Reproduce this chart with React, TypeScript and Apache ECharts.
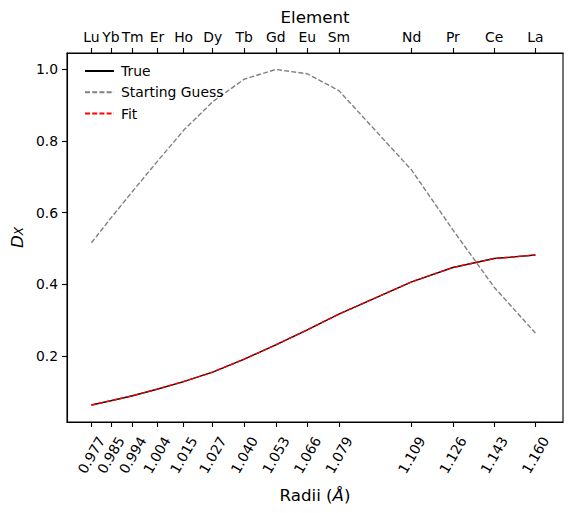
import React, { useEffect, useRef } from "react";
import * as echarts from "echarts";

const elements = ["Lu", "Yb", "Tm", "Er", "Ho", "Dy", "Tb", "Gd", "Eu", "Sm", "Nd", "Pr", "Ce", "La"];
const radii = [0.977, 0.985, 0.994, 1.004, 1.015, 1.027, 1.04, 1.053, 1.066, 1.079, 1.109, 1.126, 1.143, 1.16];
const trueValues = [0.063, 0.075, 0.089, 0.107, 0.1285, 0.155, 0.191, 0.231, 0.273, 0.317, 0.407, 0.447, 0.472, 0.482];
const fitValues = [0.063, 0.075, 0.089, 0.107, 0.1285, 0.155, 0.191, 0.231, 0.273, 0.317, 0.407, 0.447, 0.472, 0.482];
const guessValues = [0.516, 0.585, 0.66, 0.742, 0.83, 0.91, 0.973, 1.0, 0.988, 0.941, 0.719, 0.552, 0.392, 0.264];
const yTicks = [0.2, 0.4, 0.6, 0.8, 1.0];

const FONT = "DejaVu Sans";
const FS = 13.9;

export default function App() {
  const ref = useRef<HTMLDivElement>(null);
  useEffect(() => {
    if (!ref.current) return;
    const chart = echarts.init(ref.current, null, { renderer: "svg" });
    const xmin = 0.96694;
    const xmax = 1.17138;
    const nearest = (v: number) => {
      let bi = 0;
      for (let i = 0; i < radii.length; i++) {
        if (Math.abs(radii[i] - v) < Math.abs(radii[bi] - v)) bi = i;
      }
      return bi;
    };
    const pts = (ys: number[]) => radii.map((r, i) => [r, ys[i]]);
    chart.setOption({
      animation: false,
      textStyle: { fontFamily: FONT },
      grid: { left: 67, right: 10, top: 53, bottom: 91, show: true, borderColor: "#000", borderWidth: 1.1 },
      legend: {
        left: 79,
        top: 59,
        orient: "vertical",
        itemWidth: 29,
        itemHeight: 14,
        itemGap: 7.3,
        itemStyle: { opacity: 0 },
        textStyle: { fontFamily: FONT, fontSize: FS, color: "#000", padding: [0, 0, 0, 2] },
        data: ["True", "Starting Guess", "Fit"],
      },
      xAxis: [
        {
          type: "value",
          min: xmin,
          max: xmax,
          position: "bottom",
          splitLine: { show: false },
          axisLine: { lineStyle: { color: "#000", width: 1.1 } },
          axisTick: { customValues: radii, length: 5, lineStyle: { color: "#000", width: 1.1 } },
          axisLabel: {
            customValues: radii,
            formatter: (v: number) => v.toFixed(3),
            rotate: 60,
            align: "center",
            verticalAlign: "middle",
            margin: 33,
            fontFamily: FONT,
            fontSize: FS,
            color: "#000",
          },
          name: "Radii ({i|Å})",
          nameLocation: "middle",
          nameGap: 64,
          nameTextStyle: {
            fontFamily: FONT,
            fontSize: 16.7,
            color: "#000",
            verticalAlign: "top",
            rich: { i: { fontStyle: "italic", fontFamily: FONT, fontSize: 16.7, color: "#000" } },
          },
        },
        {
          type: "value",
          min: xmin,
          max: xmax,
          position: "top",
          splitLine: { show: false },
          axisLine: { lineStyle: { color: "#000", width: 1.1 } },
          axisTick: { customValues: radii, length: 5, lineStyle: { color: "#000", width: 1.1 } },
          axisLabel: {
            customValues: radii,
            formatter: (v: number) => elements[nearest(v)],
            margin: 9,
            fontFamily: FONT,
            fontSize: FS,
            color: "#000",
          },
          name: "Element",
          nameLocation: "middle",
          nameGap: 35,
          nameTextStyle: { fontFamily: FONT, fontSize: 16.7, color: "#000", verticalAlign: "middle" },
        },
      ],
      yAxis: {
        type: "value",
        min: 0.0156,
        max: 1.046,
        splitLine: { show: false },
        axisLine: { show: true, lineStyle: { color: "#000", width: 1.1 } },
        axisTick: { show: true, customValues: yTicks, length: 5, lineStyle: { color: "#000", width: 1.1 } },
        axisLabel: {
          customValues: yTicks,
          formatter: (v: number) => v.toFixed(1),
          margin: 9,
          fontFamily: FONT,
          fontSize: FS,
          color: "#000",
        },
        name: "{i|D}{s|X}",
        nameLocation: "middle",
        nameGap: 42,
        nameRotate: 90,
        nameTextStyle: {
          verticalAlign: "middle",
          rich: {
            i: { fontStyle: "italic", fontFamily: FONT, fontSize: 16.7, color: "#000", verticalAlign: "bottom", lineHeight: 18 },
            s: { fontStyle: "italic", fontFamily: FONT, fontSize: 12, color: "#000", verticalAlign: "bottom", lineHeight: 12 },
          },
        },
      },
      series: [
        {
          name: "True",
          type: "line",
          xAxisIndex: 0,
          data: pts(trueValues),
          symbol: "none",
          lineStyle: { color: "#000", width: 1.4, type: "solid" },
          itemStyle: { color: "#000" },
        },
        {
          name: "Starting Guess",
          type: "line",
          xAxisIndex: 0,
          data: pts(guessValues),
          symbol: "none",
          lineStyle: { color: "#808080", width: 1.4, type: [5, 2.2] },
          itemStyle: { color: "#808080" },
        },
        {
          name: "Fit",
          type: "line",
          xAxisIndex: 0,
          data: pts(fitValues),
          symbol: "none",
          lineStyle: { color: "#ff0000", width: 1.4, type: [5, 2.2] },
          itemStyle: { color: "#ff0000" },
        },
      ],
    });
    return () => chart.dispose();
  }, []);
  return <div ref={ref} style={{ width: 573, height: 513, position: "absolute", left: 0, top: 0 }} />;
}
